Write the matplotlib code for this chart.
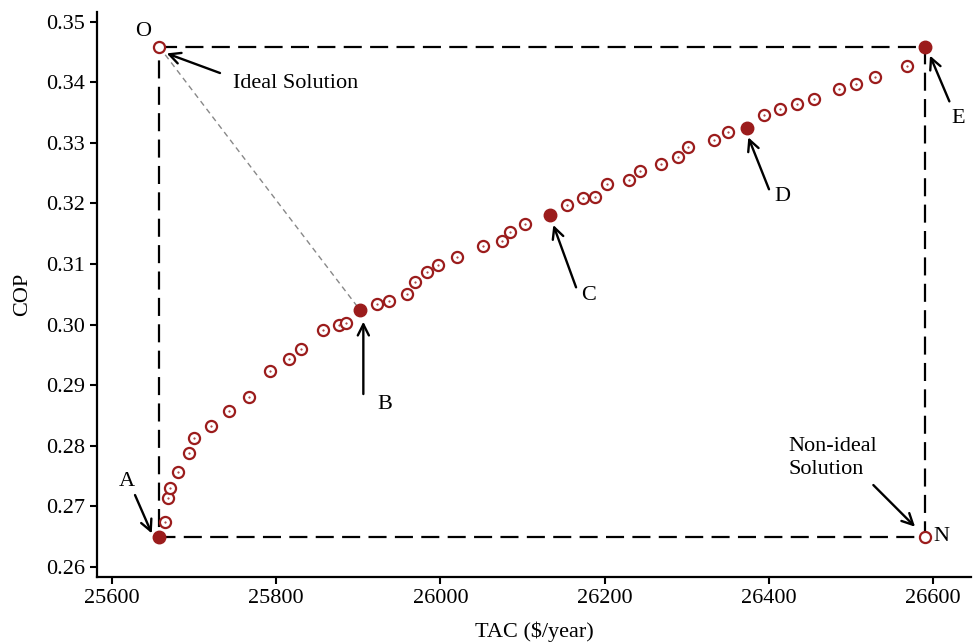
import matplotlib
matplotlib.use('Agg')
import matplotlib.pyplot as plt

plt.rcParams['font.family'] = ['Liberation Serif', 'DejaVu Serif']
plt.rcParams['lines.scale_dashes'] = False

# Pareto front (open circles), TAC in $/year and COP
tac_front = [25664.6, 25667.8, 25670.3, 25680.8, 25693.4, 25700.2, 25721.0, 25742.1,
             25767.2, 25792.4, 25815.2, 25829.8, 25857.4, 25876.1, 25885.0, 25922.8,
             25937.4, 25959.0, 25969.1, 25984.0, 25996.7, 26020.2, 26051.5, 26074.7,
             26085.1, 26103.4, 26154.2, 26173.3, 26187.9, 26202.6, 26230.1, 26243.1,
             26268.1, 26289.0, 26301.9, 26333.3, 26349.9, 26394.2, 26413.6, 26434.3,
             26455.1, 26485.1, 26506.2, 26529.4, 26568.3]
cop_front = [0.26738, 0.27134, 0.27309, 0.27568, 0.27877, 0.28129, 0.28327, 0.28575,
             0.28806, 0.29235, 0.29428, 0.29593, 0.29907, 0.29994, 0.30027, 0.30341,
             0.30395, 0.30506, 0.30699, 0.30869, 0.30980, 0.31121, 0.31293, 0.31381,
             0.31524, 0.31666, 0.31970, 0.32085, 0.32112, 0.32316, 0.32392, 0.32536,
             0.32651, 0.32767, 0.32937, 0.33043, 0.33185, 0.33465, 0.33554, 0.33637,
             0.33719, 0.33889, 0.33977, 0.34087, 0.34264]

# selected solutions (filled)
sel_names = ['A', 'B', 'C', 'D', 'E']
sel_tac = [25657.6, 25901.7, 26133.5, 26373.1, 26590.3]
sel_cop = [0.2650, 0.30247, 0.31805, 0.33241, 0.34582]

# ideal (O) and non-ideal (N) points from the extremes
ideal = (sel_tac[0], sel_cop[-1])
nadir = (sel_tac[-1], sel_cop[0])

red = '#9b1c1c'

fig = plt.figure(figsize=(9.73, 6.42), dpi=100)
ax = fig.add_axes([0.0997, 0.1012, 0.8983, 0.8801])

# dashed box
box_x = [ideal[0], nadir[0], nadir[0], ideal[0], ideal[0]]
box_y = [ideal[1], ideal[1], nadir[1], nadir[1], ideal[1]]
ax.plot(box_x, box_y, color='black', lw=1.6, dashes=[13, 6], zorder=1)

# O -> B distance line
ax.plot([ideal[0], sel_tac[1]], [ideal[1], sel_cop[1]], color='#888888', lw=1.0,
        dashes=[4, 3], zorder=1)

ax.plot(tac_front, cop_front, 'o', ms=8, mfc='white', mec=red, mew=1.6, zorder=3)
ax.plot(tac_front, cop_front, '.', ms=1, color=red, zorder=4)
ax.plot([ideal[0], nadir[0]], [ideal[1], nadir[1]], 'o', ms=8, mfc='white', mec=red,
        mew=1.6, zorder=3)
ax.plot(sel_tac, sel_cop, 'o', ms=9, color=red, zorder=3)

fs = 16
arrow = dict(arrowstyle='->,head_length=0.8,head_width=0.4', color='black', lw=1.7,
             shrinkA=0, shrinkB=0)

# labels + arrows (text pos, arrow tail, arrow head)
notes = [
    ('A', (25617.9, 0.27408), (25628, 0.27188), (25648.4, 0.26555)),
    ('B', (25931.7, 0.28685), (25906.1, 0.28855), (25906.1, 0.30049)),
    ('C', (26180.1, 0.30489), (26165.2, 0.30616), (26137.5, 0.31645)),
    ('D', (26416.9, 0.32112), (26400.2, 0.32234), (26375.0, 0.33092)),
    ('E', (26630.8, 0.33406), (26619.9, 0.33685), (26596.3, 0.34440)),
]
for name, tpos, tail, head in notes:
    ax.text(tpos[0], tpos[1], name, fontsize=fs, ha='center', va='center')
    ax.annotate('', xy=head, xytext=tail, arrowprops=arrow)

ax.text(25637.4, 0.34835, 'O', fontsize=fs, ha='center', va='center')
ax.text(25824, 0.33988, 'Ideal Solution', fontsize=fs, ha='center', va='center')
ax.annotate('', xy=(25666.6, 0.34477), xytext=(25731.5, 0.34153), arrowprops=arrow)

ax.text(26610.6, 0.26505, 'N', fontsize=fs, ha='center', va='center')
ax.text(26423.4, 0.2780, 'Non-ideal\nSolution', fontsize=fs, ha='left', va='center',
        linespacing=1.25)
ax.annotate('', xy=(26578.1, 0.26665), xytext=(26527.3, 0.27353), arrowprops=arrow)

ax.set_xlim(25581.7, 26646.3)
ax.set_ylim(0.25835, 0.3516)
ax.set_xticks([25600, 25800, 26000, 26200, 26400, 26600])
ax.set_yticks([0.26, 0.27, 0.28, 0.29, 0.30, 0.31, 0.32, 0.33, 0.34, 0.35])
ax.set_yticklabels(['0.26', '0.27', '0.28', '0.29', '0.30', '0.31', '0.32', '0.33',
                    '0.34', '0.35'])
ax.tick_params(direction='out', length=5, width=1.5, labelsize=fs)
ax.spines['top'].set_visible(False)
ax.spines['right'].set_visible(False)
ax.spines['left'].set_linewidth(1.6)
ax.spines['bottom'].set_linewidth(1.6)

ax.set_xlabel('TAC ($/year)', fontsize=fs, labelpad=10)
ax.set_ylabel('COP', fontsize=fs, labelpad=10)

fig.savefig('out.png', dpi=100)
